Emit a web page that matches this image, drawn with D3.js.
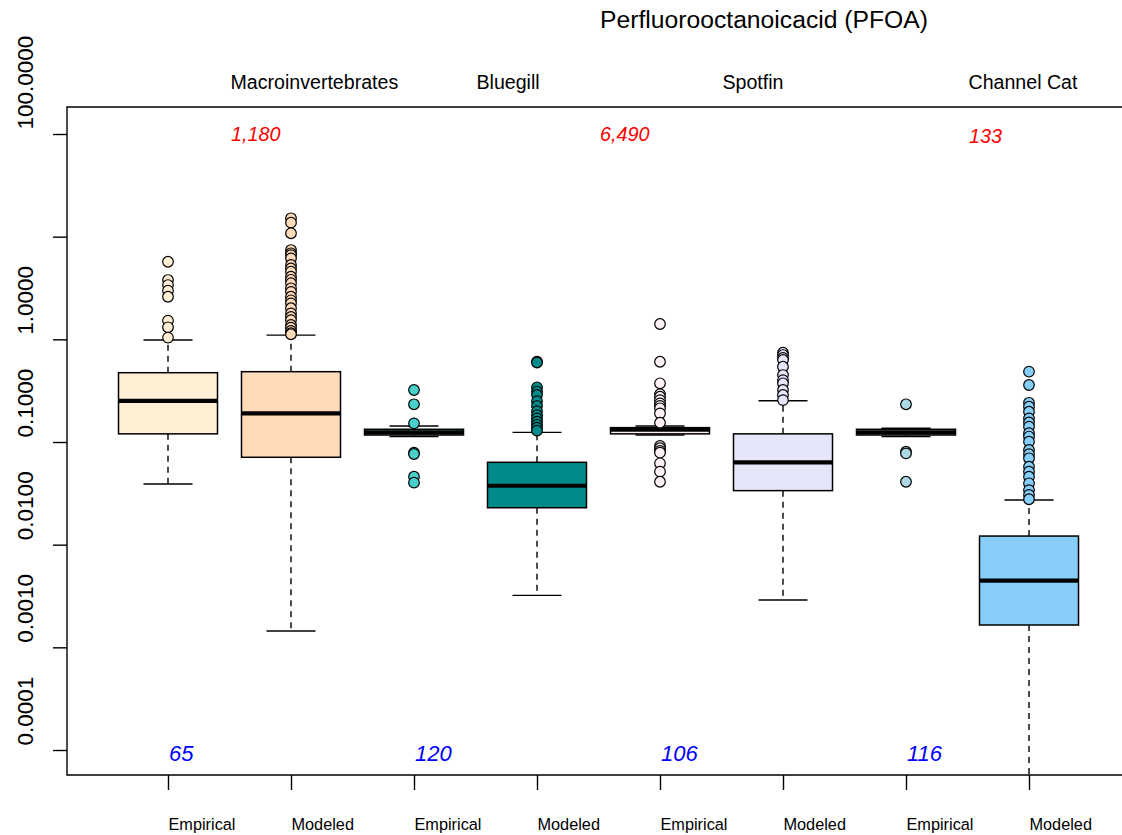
<!DOCTYPE html>
<html>
<head>
<meta charset="utf-8">
<script src="https://cdn.jsdelivr.net/npm/d3@7"></script>
<style>
  html, body { margin: 0; padding: 0; background: #ffffff; }
  svg { display: block; font-family: "Liberation Sans", Arial, sans-serif; }
</style>
</head>
<body>
<svg id="chart" width="1122" height="835"></svg>
<script>
// PFOA concentrations: empirical vs modeled, by organism group
const title = "Perfluorooctanoicacid (PFOA)";
const groups = ["Macroinvertebrates", "Bluegill", "Spotfin", "Channel Cat"];
const methods = ["Empirical", "Modeled"];

// one entry per box, ordered group by group (Empirical, Modeled)
const boxFill = ["#FFEFD5", "#FFDAB9", "#48D1CC", "#008B8B", "#FFF0F5", "#E6E6FA", "#ADD8E6", "#87CEFA"];
const whiskerLow  = [0.039, 0.00144, 0.113, 0.00321, 0.117, 0.00289, 0.113, 0.00001];
const quartile1   = [0.120, 0.0710, 0.117, 0.0229, 0.120, 0.0336, 0.117, 0.00165];
const medians     = [0.251, 0.190, 0.124, 0.0375, 0.132, 0.0634, 0.124, 0.00446];
const quartile3   = [0.473, 0.484, 0.133, 0.0634, 0.138, 0.120, 0.133, 0.01213];
const whiskerHigh = [0.984, 1.10, 0.143, 0.124, 0.143, 0.252, 0.136, 0.0272];
const outliers = [
  [5.70, 3.78, 3.38, 2.98, 2.60, 1.52, 1.31, 1.04],
  [15.1, 13.7, 10.8, 7.41, 6.89, 6.60, 6.15, 5.30, 4.90, 4.56, 4.07, 3.80, 3.52, 3.14, 2.90,
   2.60, 2.40, 2.24, 2.01, 1.79, 1.65, 1.54, 1.38, 1.30, 1.21, 1.15, 1.12],
  [0.321, 0.233, 0.152, 0.0787, 0.0764, 0.0459, 0.0402],
  [0.605, 0.595, 0.341, 0.310, 0.287, 0.250, 0.224, 0.200, 0.183, 0.170, 0.158, 0.147, 0.138, 0.129],
  [1.41, 0.605, 0.373, 0.292, 0.276, 0.256, 0.238, 0.225, 0.213, 0.190, 0.154,
   0.0914, 0.0869, 0.0820, 0.0787, 0.0620, 0.0514, 0.0410],
  [0.741, 0.703, 0.660, 0.629, 0.541, 0.449, 0.400, 0.373, 0.321, 0.287, 0.256],
  [0.233, 0.0804, 0.0775, 0.0410],
  [0.484, 0.359, 0.241, 0.221, 0.197, 0.170, 0.155, 0.141, 0.122, 0.113, 0.1007, 0.0836,
   0.0760, 0.0694, 0.0574, 0.0514, 0.0459, 0.0396, 0.0340, 0.0305, 0.0277]
];

// sample sizes: red above the plot, blue along the bottom
const redCounts = ["1,180", "6,490", "133"];
const redPos = [1.5, 4.5, 7.5];
const blueCounts = ["65", "120", "106", "116"];
const bluePos = [1, 3, 5, 7];

// y axis
const yTicks = [0.0001, 0.001, 0.01, 0.1, 1, 10, 100];
const yLabels = [0.0001, 0.001, 0.01, 0.1, 1, 100];

const svg = d3.select("#chart");
const W = 1122, H = 835;
const plot = { left: 67, top: 107, bottom: 775, right: 1140 };

const nBox = boxFill.length;
const x = d3.scaleLinear().domain([1, nBox]).range([168, 1029]);
const y = d3.scaleLog().domain([0.0001, 100]).range([750, 134]);
const boxHalf = 49.5;
const capHalf = 24.5;

svg.append("rect").attr("width", W).attr("height", H).attr("fill", "#fff");

// clip to plotting region
svg.append("defs").append("clipPath").attr("id", "plotClip")
  .append("rect")
  .attr("x", plot.left).attr("y", plot.top)
  .attr("width", plot.right - plot.left).attr("height", plot.bottom - plot.top);

const boxes = d3.range(nBox).map(i => ({
  i, pos: i + 1, fill: boxFill[i],
  lo: whiskerLow[i], q1: quartile1[i], med: medians[i], q3: quartile3[i], hi: whiskerHigh[i],
  out: outliers[i]
}));

const g = svg.append("g").attr("clip-path", "url(#plotClip)");

const bg = g.selectAll("g.box").data(boxes).join("g").attr("class", "box");

// dashed whiskers
bg.append("line")
  .attr("x1", d => x(d.pos)).attr("x2", d => x(d.pos))
  .attr("y1", d => y(d.q3)).attr("y2", d => y(d.hi))
  .attr("stroke", "#000").attr("stroke-width", 1.4).attr("stroke-dasharray", "6,5");
bg.append("line")
  .attr("x1", d => x(d.pos)).attr("x2", d => x(d.pos))
  .attr("y1", d => y(d.q1)).attr("y2", d => y(d.lo))
  .attr("stroke", "#000").attr("stroke-width", 1.4).attr("stroke-dasharray", "6,5");

// whisker caps
bg.append("line")
  .attr("x1", d => x(d.pos) - capHalf).attr("x2", d => x(d.pos) + capHalf)
  .attr("y1", d => y(d.hi)).attr("y2", d => y(d.hi))
  .attr("stroke", "#000").attr("stroke-width", 1.4);
bg.append("line")
  .attr("x1", d => x(d.pos) - capHalf).attr("x2", d => x(d.pos) + capHalf)
  .attr("y1", d => y(d.lo)).attr("y2", d => y(d.lo))
  .attr("stroke", "#000").attr("stroke-width", 1.4);

// boxes
bg.append("rect")
  .attr("x", d => x(d.pos) - boxHalf).attr("width", boxHalf * 2)
  .attr("y", d => y(d.q3)).attr("height", d => y(d.q1) - y(d.q3))
  .attr("fill", d => d.fill).attr("stroke", "#000").attr("stroke-width", 1.5);

// medians
bg.append("line")
  .attr("x1", d => x(d.pos) - boxHalf).attr("x2", d => x(d.pos) + boxHalf)
  .attr("y1", d => y(d.med)).attr("y2", d => y(d.med))
  .attr("stroke", "#000").attr("stroke-width", 4.2);

// outlying points
bg.selectAll("circle").data(d => d.out.map(v => ({ v, pos: d.pos, fill: d.fill })))
  .join("circle")
  .attr("cx", d => x(d.pos)).attr("cy", d => y(d.v)).attr("r", 5.3)
  .attr("fill", d => d.fill).attr("stroke", "#000").attr("stroke-width", 1.2);

// frame (left, top, bottom)
svg.append("path")
  .attr("d", `M${plot.right},${plot.top}H${plot.left}V${plot.bottom}H${plot.right}`)
  .attr("fill", "none").attr("stroke", "#000").attr("stroke-width", 1.4);

// y axis ticks with rotated labels
const yAxis = d3.axisLeft(y).tickValues(yTicks).tickSize(14)
  .tickFormat(v => yLabels.some(l => Math.abs(l - v) < v * 1e-6) ? d3.format(".4f")(v) : "");
const ya = svg.append("g").attr("transform", `translate(${plot.left},0)`).call(yAxis);
ya.select(".domain").remove();
ya.selectAll(".tick line").attr("stroke", "#000").attr("stroke-width", 1.4);
ya.selectAll(".tick text")
  .attr("transform", "rotate(-90)")
  .attr("x", 5).attr("y", -34).attr("dy", null)
  .attr("text-anchor", "start")
  .attr("font-size", 22.5).attr("fill", "#000")
  .attr("font-family", "'Liberation Sans', Arial, sans-serif");

// x axis ticks with left-aligned method labels
const xLabels = d3.range(nBox).map(i => methods[i % 2]);
const xAxis = d3.axisBottom(x).tickValues(d3.range(1, nBox + 1)).tickSize(15)
  .tickFormat(v => xLabels[v - 1]);
const xa = svg.append("g").attr("transform", `translate(0,${plot.bottom})`).call(xAxis);
xa.select(".domain").remove();
xa.selectAll(".tick line").attr("stroke", "#000").attr("stroke-width", 1.4);
xa.selectAll(".tick text")
  .attr("y", 55).attr("dy", null).attr("text-anchor", "start")
  .attr("font-size", 16.3).attr("fill", "#000")
  .attr("font-family", "'Liberation Sans', Arial, sans-serif");

// title
svg.append("text")
  .attr("x", 764).attr("y", 28).attr("text-anchor", "middle")
  .attr("font-size", 24.7).attr("fill", "#000").text(title);

// group labels, starting at the midpoint of each pair
svg.selectAll("text.group").data(groups).join("text").attr("class", "group")
  .attr("x", (d, i) => x(2 * i + 1.5) + 1).attr("y", 89)
  .attr("font-size", 19.6).attr("fill", "#000").text(d => d);

// red counts
svg.selectAll("text.red").data(redCounts).join("text").attr("class", "red")
  .attr("x", (d, i) => x(redPos[i]) + 1.5).attr("y", (d, i) => i === 2 ? 143 : 141)
  .attr("font-size", 19.8).attr("font-style", "italic").attr("fill", "#FF0000").text(d => d);

// blue counts
svg.selectAll("text.blue").data(blueCounts).join("text").attr("class", "blue")
  .attr("x", (d, i) => x(bluePos[i]) + 1).attr("y", 761)
  .attr("font-size", 22).attr("font-style", "italic").attr("fill", "#0000FF").text(d => d);
</script>
</body>
</html>
